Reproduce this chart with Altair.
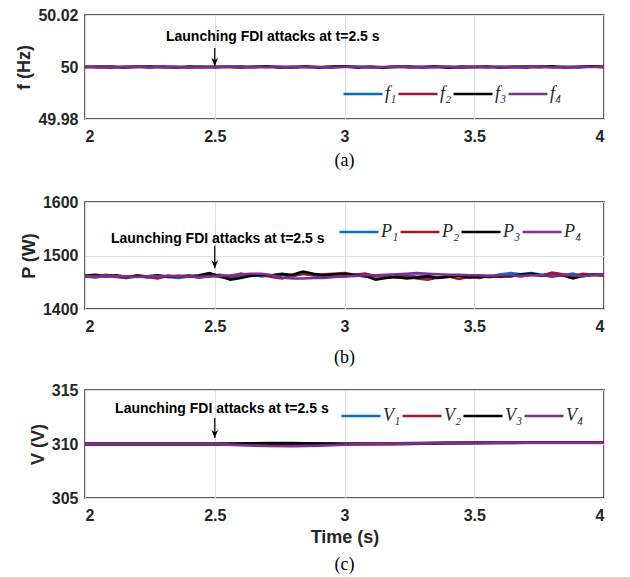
import altair as alt
import pandas as pd

# ---------------- data ----------------
T_F = [round(2 + 0.05 * i, 2) for i in range(41)]
T_P = [round(2 + 0.04 * i, 2) for i in range(51)]
T_V = [round(2 + 0.1 * i, 1) for i in range(21)]

# frequency deviations from 50 Hz in units of 1e-4 Hz
F1_DEV = [1, -2, 2, -1, 3, -2, 0, 2, -3, 1,
          -1, 2, -2, 1, 3, -1, -2, 2, 0, -3,
          1, 2, -1, -2, 3, 0, -2, 1, 2, -3,
          1, -1, 2, -2, 0, 3, -1, 1, -2, 2, 0]
F2_DEV = [2, -1, -3, 2, 1, -2, 3, -1, 0, -2,
          2, 1, -3, 2, -1, 1, -2, 3, -1, 0,
          2, -3, 1, -1, 2, -2, 1, 3, -1, -2,
          0, 2, -1, 1, -3, 2, 0, -2, 1, 3, -1]
F3_DEV = [-1, 2, 1, -2, 0, 3, -1, -2, 2, 1,
          -1, 0, 2, -1, 3, -2, 1, 0, -2, 2,
          3, -1, 1, -2, 0, 2, -1, 1, -3, 2,
          0, 1, -2, 1, 2, -1, 3, -1, 0, 2, 1]
F4_DEV = [0, 1, 0, -1, 0, 1, 0, 0, -1, 0,
          1, 0, 0, -1, 0, 1, 0, -1, 0, 0,
          1, 0, -1, 0, 1, 0, 0, -1, 0, 1,
          0, -1, 0, 0, 1, 0, -1, 0, 1, 0, 0]

P1 = [1461, 1459, 1462, 1460, 1458, 1461, 1459, 1462, 1460, 1458,
      1461, 1459, 1463, 1460, 1458, 1462, 1464, 1461, 1463, 1466,
      1461, 1466, 1463, 1460, 1463, 1461, 1464, 1460, 1462, 1459,
      1461, 1463, 1460, 1462, 1459, 1461, 1463, 1460, 1462, 1460,
      1465, 1467, 1465, 1467, 1464, 1466, 1463, 1466, 1461, 1465, 1462]
P2 = [1462, 1460, 1464, 1461, 1458, 1463, 1460, 1457, 1462, 1460,
      1463, 1459, 1461, 1464, 1460, 1466, 1462, 1464, 1460, 1457,
      1463, 1466, 1463, 1465, 1466, 1467, 1464, 1466, 1461, 1463,
      1459, 1461, 1457, 1455, 1459, 1461, 1456, 1460, 1458, 1462,
      1460, 1463, 1461, 1464, 1462, 1468, 1465, 1462, 1466, 1464, 1465]
P3 = [1462, 1464, 1461, 1463, 1460, 1462, 1461, 1463, 1460, 1462,
      1461, 1463, 1467, 1461, 1455, 1458, 1462, 1464, 1463, 1465,
      1464, 1470, 1466, 1463, 1465, 1466, 1464, 1462, 1455, 1458,
      1460, 1457, 1459, 1461, 1458, 1460, 1462, 1459, 1461, 1460,
      1462, 1461, 1465, 1466, 1463, 1461, 1463, 1457, 1462, 1464, 1463]
P4 = [1461, 1461, 1462, 1461, 1461, 1460, 1461, 1461, 1462, 1461,
      1461, 1460, 1461, 1462, 1463, 1465, 1466, 1466, 1463, 1459,
      1457, 1457, 1458, 1458, 1460, 1461, 1462, 1463, 1463, 1464,
      1465, 1466, 1467, 1466, 1465, 1464, 1464, 1463, 1463, 1462,
      1463, 1463, 1462, 1463, 1463, 1462, 1463, 1463, 1462, 1463, 1463]

V1 = [310.0, 310.0, 310.0, 310.0, 310.0, 310.0, 310.02, 310.04, 310.04, 310.03,
      310.02, 310.04, 310.06, 310.08, 310.1, 310.11, 310.12, 310.12, 310.12, 310.12, 310.12]
V2 = [310.0, 310.0, 310.0, 310.0, 310.0, 310.0, 310.01, 310.03, 310.03, 310.02,
      310.02, 310.04, 310.06, 310.08, 310.1, 310.11, 310.12, 310.12, 310.12, 310.12, 310.12]
V3 = [310.0, 310.0, 310.0, 310.0, 310.0, 310.0, 310.04, 310.07, 310.07, 310.04,
      310.0, 309.98, 310.0, 310.04, 310.08, 310.1, 310.11, 310.12, 310.12, 310.12, 310.12]
V4 = [310.0, 310.0, 310.0, 310.0, 310.0, 310.0, 309.9, 309.82, 309.8, 309.85,
      309.95, 310.0, 310.03, 310.06, 310.09, 310.11, 310.12, 310.12, 310.12, 310.12, 310.12]

F_NAMES = ["f₁", "f₂", "f₃", "f₄"]
P_NAMES = ["P₁", "P₂", "P₃", "P₄"]
V_NAMES = ["V₁", "V₂", "V₃", "V₄"]
COLORS = ["#0072BD", "#A2142F", "#000000", "#7E2F8E"]
ANNOT = "Launching FDI attacks at t=2.5 s"


def long_df(t, series, names):
    rows = []
    for k, (s, n) in enumerate(zip(series, names)):
        for ti, v in zip(t, s):
            rows.append({"t": ti, "v": v, "s": n, "o": k})
    return pd.DataFrame(rows)


f_df = long_df(T_F, [[50 + d * 1e-4 for d in dev] for dev in (F1_DEV, F2_DEV, F3_DEV, F4_DEV)], F_NAMES)
p_df = long_df(T_P, [P1, P2, P3, P4], P_NAMES)
v_df = long_df(T_V, [V1, V2, V3, V4], V_NAMES)

W = 519
LABEL_FONT = "Liberation Sans"


def panel(df, names, ydom, yvals, yfmt, ytitle, leg_x, leg_y, ann_x, ann_y, arr_top, arr_tip,
          caption, cap_offset, height, xtitle=None, sw=2.6):
    x_axis = alt.Axis(values=[2, 2.5, 3, 3.5, 4], format="~g", title=xtitle,
                      titlePadding=5)
    x = alt.X("t:Q", scale=alt.Scale(domain=[2, 4], nice=False, zero=False), axis=x_axis)
    y = alt.Y("v:Q", scale=alt.Scale(domain=ydom, nice=False, zero=False),
              axis=alt.Axis(values=yvals, format=yfmt, title=ytitle, titlePadding=4))
    lines = alt.Chart(df).mark_line(strokeWidth=sw, clip=True).encode(
        x=x, y=y,
        color=alt.Color("s:N", scale=alt.Scale(domain=names, range=COLORS),
                        legend=alt.Legend(orient="none", legendX=leg_x, legendY=leg_y,
                                          direction="horizontal", title=None,
                                          symbolType="stroke", symbolSize=1521,
                                          symbolStrokeWidth=2.5, labelFont="Liberation Serif",
                                          labelFontStyle="italic", labelFontSize=18,
                                          labelColor="#262626", labelOffset=1,
                                          columnPadding=-9, padding=0, labelLimit=30)),
        order="o:Q",
        detail="s:N",
    )
    ann = pd.DataFrame({"t": [ann_x], "v": [ann_y], "label": [ANNOT]})
    text = alt.Chart(ann).mark_text(align="left", baseline="middle", font=LABEL_FONT,
                                    fontWeight="bold", fontSize=14, color="black").encode(
        x="t:Q", y="v:Q", text="label:N")
    arr = pd.DataFrame({"t": [2.5], "v": [arr_top], "v2": [arr_tip]})
    rule = alt.Chart(arr).mark_rule(color="black", strokeWidth=1.2).encode(
        x="t:Q", y="v:Q", y2="v2:Q")
    head = alt.Chart(arr).mark_point(shape="M -1 -2.4 L 0 0 L 1 -2.4 L 0 -1.7 Z",
                                     filled=True, size=45, color="black", opacity=1).encode(
        x="t:Q", y="v2:Q")
    return alt.layer(lines, text, rule, head).properties(
        width=W, height=height,
        title=alt.TitleParams(text=caption, orient="bottom", font="Liberation Serif",
                              fontSize=18, fontWeight="normal", offset=cap_offset,
                              anchor="middle", color="black"))


pa = panel(f_df, F_NAMES, [49.98, 50.02], [49.98, 50, 50.02], ".2~f", "f (Hz)",
           257, 58, 2.312, 50.0115, 50.0073, 50.0004, "(a)", 8, 104)
pb = panel(p_df, P_NAMES, [1400, 1600], [1400, 1500, 1600], "d", "P (W)",
           253, 9, 2.10, 1530, 1518, 1476, "(b)", 15, 107)
pc = panel(v_df, V_NAMES, [305, 315], [305, 310, 315], "d", "V (V)",
           255, 5, 2.116, 313.2, 312.4, 310.55, "(c)", 10, 108, xtitle="Time (s)", sw=2.8)

top = alt.vconcat(pa, pb, spacing=22).resolve_scale(color="independent")
chart = alt.vconcat(top, pc, spacing=13).resolve_scale(color="independent").properties(
    padding={"left": 7, "top": -2, "right": 0, "bottom": 0}
).configure_view(
    stroke="#2b2b2b", strokeWidth=1.5
).configure_axis(
    labelFont=LABEL_FONT, labelFontWeight="bold", labelFontSize=16, labelColor="#262626",
    titleFont=LABEL_FONT, titleFontWeight="bold", titleFontSize=18, titleColor="#262626",
    grid=True, gridColor="#dedede", gridWidth=1, ticks=False, domain=False,
    labelPadding=7
).configure_axisX(labelPadding=9)

chart.save("out.html", embed_options={"renderer": "svg", "actions": False})
